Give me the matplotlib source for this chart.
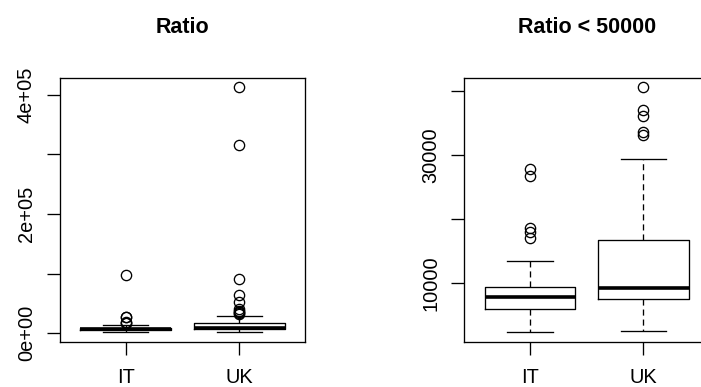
import matplotlib
matplotlib.use('Agg')
import matplotlib.pyplot as plt

plt.rcParams['font.family'] = ['Liberation Sans', 'DejaVu Sans']

groups = ['IT', 'UK']

# box stats: whislo, q1, med, q3, whishi
it_box = [2350, 6000, 7800, 9400, 13500]
uk_box = [2450, 7550, 9170, 16720, 29330]

# outliers, full data
it_out_all = [17000, 18000, 18600, 26800, 27800, 97400]
uk_out_all = [33100, 33600, 36000, 37000, 40500, 52500, 64800, 90600, 315600, 412300]

# outliers, ratio < 50000
it_out_sub = [16980, 18020, 18640, 26770, 27770]
uk_out_sub = [33130, 33590, 35990, 37030, 40520]

left_ticks = [0, 100000, 200000, 300000, 400000]
left_labels = ['0e+00', '', '2e+05', '', '4e+05']
right_ticks = [10000, 20000, 30000, 40000]
right_labels = ['10000', '', '30000', '']


def make_stats(box, out, label):
    return dict(label=label, whislo=box[0], q1=box[1], med=box[2],
                q3=box[3], whishi=box[4], fliers=out)


def draw(ax, stats, title, ticks, labels):
    lw = 0.95
    ax.bxp(stats, positions=[1, 2], widths=0.8, capwidths=0.4,
           boxprops=dict(color='black', linewidth=lw),
           whiskerprops=dict(color='black', linewidth=lw, linestyle=(0, (4.6, 3.0))),
           capprops=dict(color='black', linewidth=lw),
           medianprops=dict(color='black', linewidth=2.6, solid_capstyle='butt'),
           flierprops=dict(marker='o', markersize=7.4, markerfacecolor='none',
                           markeredgecolor='black', markeredgewidth=lw))
    lo = min(s['whislo'] for s in stats)
    hi = max(max(s['fliers'] + [s['whishi']]) for s in stats)
    ext = (hi - lo) * 0.04
    ax.set_ylim(lo - ext, hi + ext)
    ax.set_xlim(0.42, 2.58)
    ax.set_xticks([1, 2])
    ax.set_xticklabels(groups)
    ax.set_yticks(ticks)
    ax.set_yticklabels(labels, rotation=90, va='center')
    ax.tick_params(axis='x', length=9.6, width=lw, pad=9.3, labelsize=14.4)
    ax.tick_params(axis='y', length=9.6, width=lw, pad=7.8, labelsize=14.4)
    for sp in ax.spines.values():
        sp.set_linewidth(lw)
    ax.set_title(title, fontsize=15.5, fontweight='bold', pad=32.5)


fig = plt.figure(figsize=(7.01, 3.87), dpi=100)
ax1 = fig.add_axes([0.0856, 0.1171, 0.3495, 0.6821])
ax2 = fig.add_axes([0.6623, 0.1171, 0.3495, 0.6821])

draw(ax1, [make_stats(it_box, it_out_all, 'IT'), make_stats(uk_box, uk_out_all, 'UK')],
     'Ratio', left_ticks, left_labels)
draw(ax2, [make_stats(it_box, it_out_sub, 'IT'), make_stats(uk_box, uk_out_sub, 'UK')],
     'Ratio < 50000', right_ticks, right_labels)

fig.savefig('out.png', dpi=100)
